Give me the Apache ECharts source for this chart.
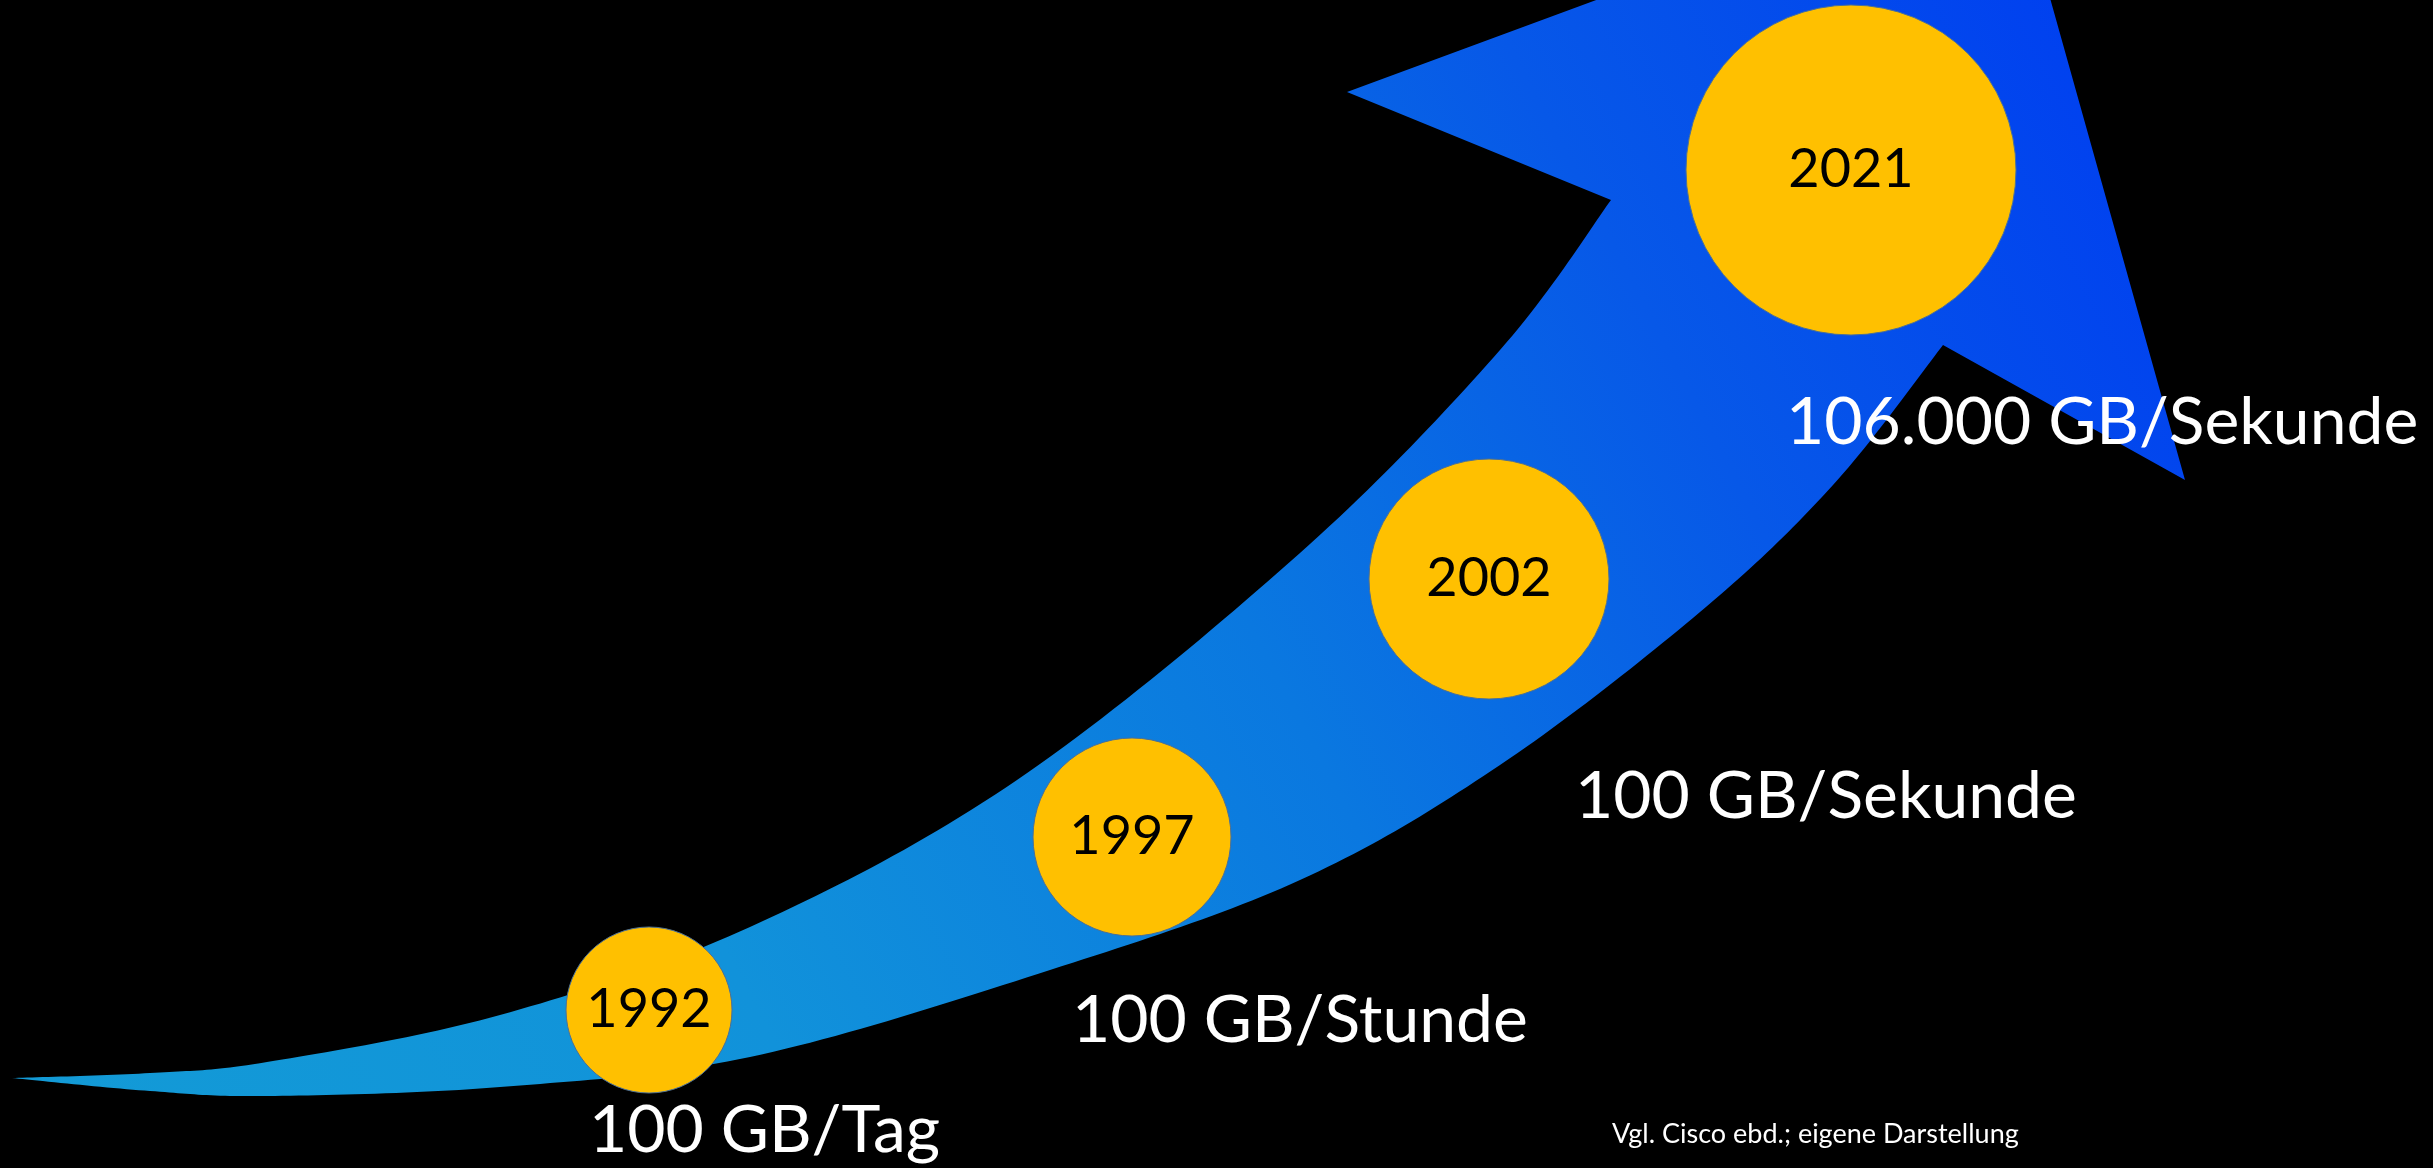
<!DOCTYPE html>
<html>
<head>
<meta charset="utf-8">
<title>Datenvolumen im Internet</title>
<script src="https://cdn.jsdelivr.net/npm/echarts@6/dist/echarts.min.js"></script>
<style>
  html, body { margin: 0; padding: 0; background: #000; }
  #chart { width: 2433px; height: 1168px; }
</style>
</head>
<body>
<div id="chart"></div>
<script>
// data
const years = ['1992', '1997', '2002', '2021'];
const rates = ['100 GB/Tag', '100 GB/Stunde', '100 GB/Sekunde', '106.000 GB/Sekunde'];
const sourceNote = 'Vgl. Cisco ebd.; eigene Darstellung';

// layout on the slide (axis units = px of the slide)
const circleCenters = [[649, 1010], [1132, 837], [1489, 579], [1851, 170]];
const circleSizes = [166, 198, 240, 330];
const rateAnchors = [[589, 1131], [1072, 1021], [1575, 797], [1786, 423]];

// swoosh arrow outline: upper edge tail -> notch, head, lower edge tail -> notch
const arrowTop = [[12, 1078], [150, 1073], [267, 1062], [500, 1015], [750, 927],
  [1017, 780], [1300, 553], [1500, 350], [1611, 200]];
const arrowHead = [[1347, 92], [2008, -152], [2185, 480]];
const arrowBottom = [[12, 1078], [150, 1091], [267, 1096], [500, 1087], [750, 1057],
  [1050, 970], [1300, 880], [1500, 765], [1700, 612], [1833, 485], [1943, 345]];

function spline(pts, steps) {
  const out = [];
  for (let i = 0; i < pts.length - 1; i++) {
    const p0 = pts[Math.max(i - 1, 0)], p1 = pts[i], p2 = pts[i + 1], p3 = pts[Math.min(i + 2, pts.length - 1)];
    for (let s = 0; s < steps; s++) {
      const t = s / steps, t2 = t * t, t3 = t2 * t;
      const f = (k) => 0.5 * (2 * p1[k] + (p2[k] - p0[k]) * t +
        (2 * p0[k] - 5 * p1[k] + 4 * p2[k] - p3[k]) * t2 +
        (3 * p1[k] - p0[k] - 3 * p2[k] + p3[k]) * t3);
      out.push([f(0), f(1)]);
    }
  }
  out.push(pts[pts.length - 1]);
  return out;
}

const font = 'Lato, "Open Sans", sans-serif';
const chart = echarts.init(document.getElementById('chart'));

const option = {
  backgroundColor: '#000',
  animation: false,
  title: {
    text: sourceNote,
    left: 1612,
    top: 1121,
    padding: 0,
    textStyle: { color: '#fff', fontSize: 27, fontWeight: 'normal', fontFamily: font }
  },
  grid: { left: 0, right: 0, top: 0, bottom: 0 },
  xAxis: { type: 'value', min: 0, max: 2433, show: false },
  yAxis: { type: 'value', min: 0, max: 1168, inverse: true, show: false },
  series: [
    {
      type: 'custom',
      name: 'arrow',
      clip: true,
      silent: true,
      data: [[0, 0]],
      renderItem: function (params, api) {
        const outline = spline(arrowTop, 24)
          .concat(arrowHead)
          .concat(spline(arrowBottom, 24).reverse());
        const points = outline.map((p) => api.coord(p));
        const a = api.coord([0, 1100]);
        const b = api.coord([2100, 0]);
        return {
          type: 'polygon',
          shape: { points: points },
          style: {
            fill: {
              type: 'linear', global: true,
              x: a[0], y: a[1], x2: b[0], y2: b[1],
              colorStops: [
                { offset: 0, color: '#139bd6' },
                { offset: 0.3, color: '#1192da' },
                { offset: 0.56, color: '#0a78e0' },
                { offset: 0.77, color: '#0758e8' },
                { offset: 1, color: '#003ff0' }
              ]
            }
          }
        };
      }
    },
    {
      type: 'scatter',
      name: 'Jahr',
      symbol: 'circle',
      data: years.map((y, i) => ({
        name: y,
        value: circleCenters[i],
        symbolSize: circleSizes[i]
      })),
      itemStyle: { color: '#ffc000', borderColor: '#4b6f96', borderWidth: 1, opacity: 1 },
      label: {
        show: true,
        position: 'inside',
        formatter: '{b}',
        color: '#000',
        opacity: 1,
        fontSize: 54,
        fontFamily: font
      }
    },
    {
      type: 'scatter',
      name: 'Datenvolumen',
      symbolSize: 0,
      itemStyle: { opacity: 1 },
      data: rates.map((r, i) => ({ name: r, value: rateAnchors[i] })),
      label: {
        show: true,
        position: 'right',
        distance: 0,
        formatter: '{b}',
        color: '#fff',
        opacity: 1,
        fontSize: 66,
        fontFamily: font,
        align: 'left',
        verticalAlign: 'middle'
      }
    }
  ]
};

chart.setOption(option);
</script>
</body>
</html>
